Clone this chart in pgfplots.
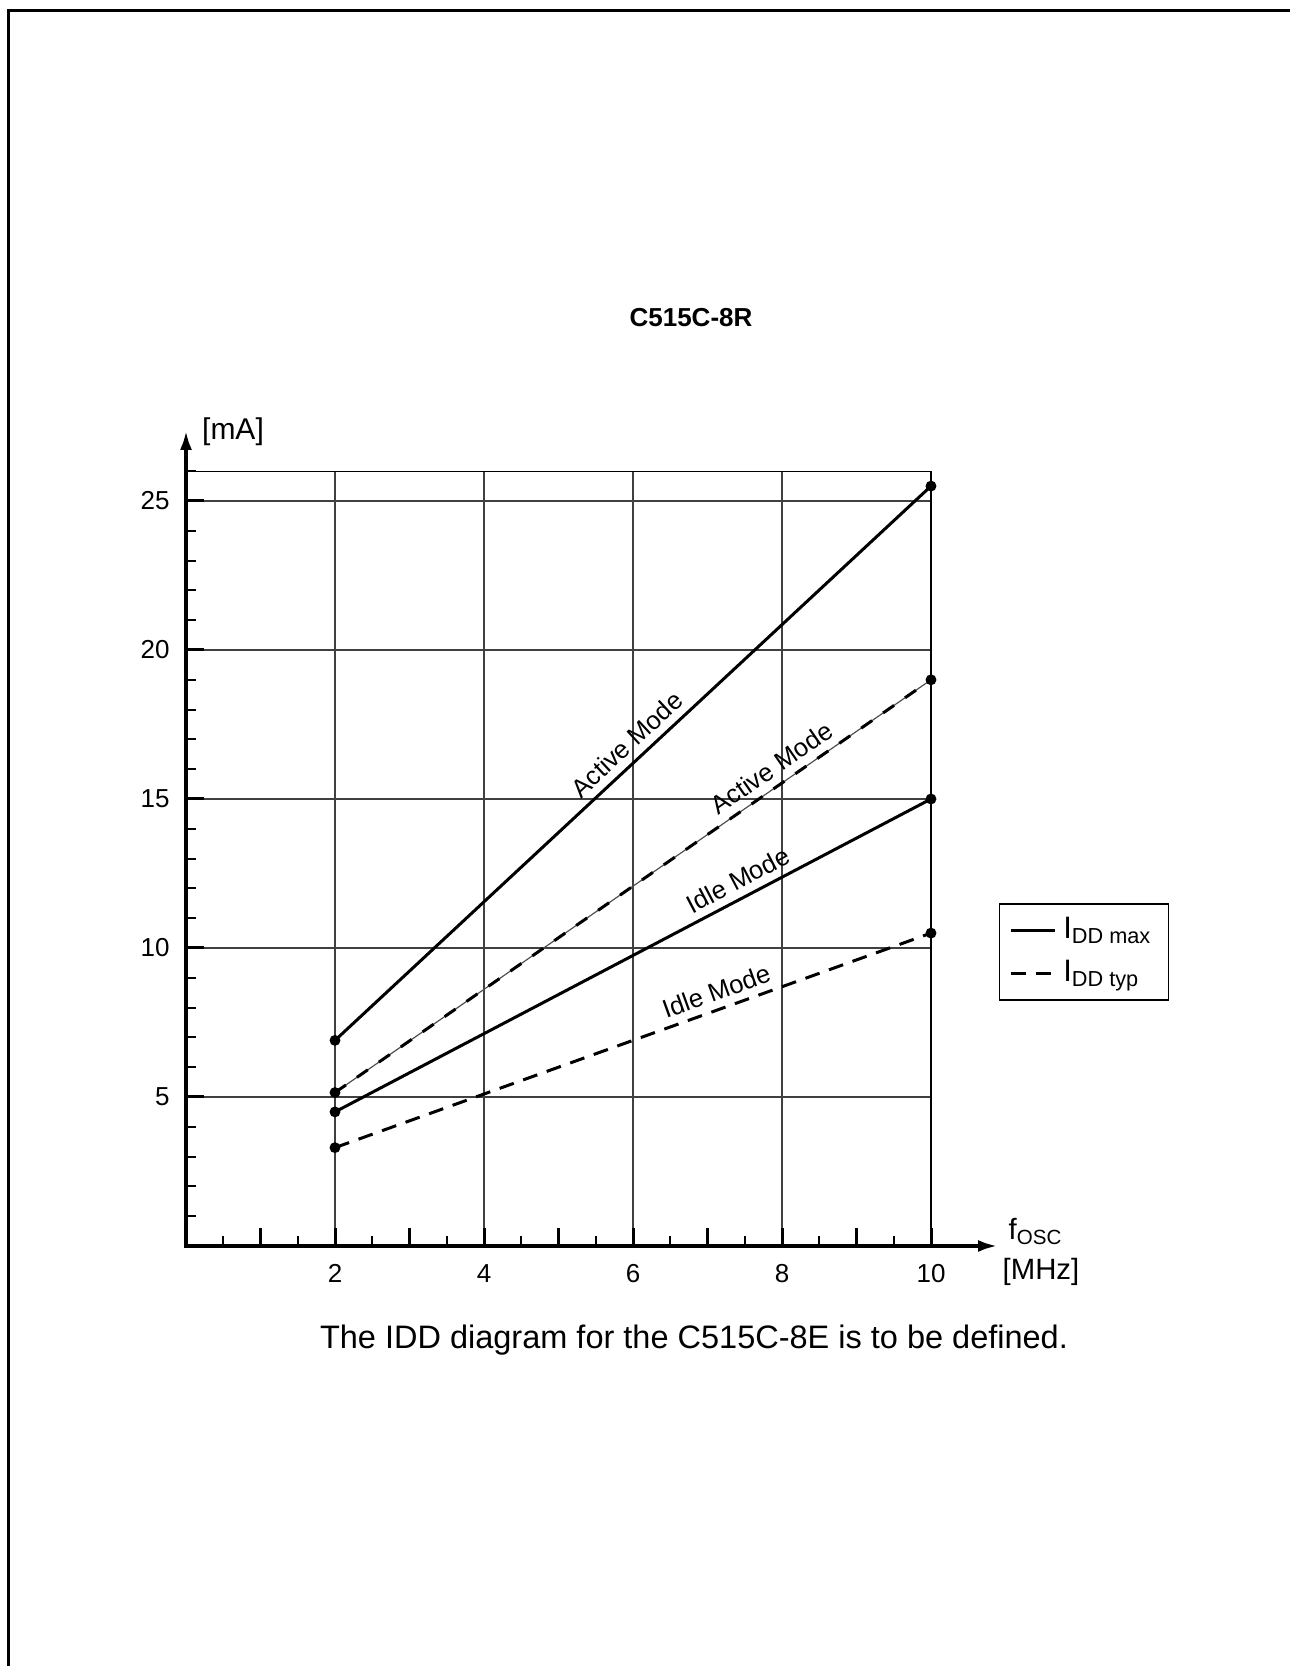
\documentclass[border=0pt]{standalone}
\usepackage{fontspec}
\setmainfont{Liberation Sans}
\usepackage{pgfplots}
\pgfplotsset{compat=1.18}
\usetikzlibrary{arrows.meta}
\begin{document}
\begin{tikzpicture}
\useasboundingbox (-55.8pt,-126pt) rectangle (331.2pt,373.8pt);
\draw[line width=0.9pt] (-53.25pt,-140pt) -- (-53.25pt,370.65pt) -- (345pt,370.65pt);
\begin{axis}[
  at={(0pt,0pt)}, anchor=south west,
  scale only axis, width=223.5pt, height=232.44pt,
  xmin=0, xmax=10, ymin=0, ymax=26,
  clip=false,
  axis line style={line width=0.4pt, black},
  tick pos=left, tick align=inside,
  xtick={2,4,6,8,10},
  extra x ticks={1,3,5,7,9}, extra x tick labels={}, extra x tick style={grid=none},
  minor xtick={0.5,1.5,...,9.5},
  ytick={5,10,15,20,25},
  minor ytick={1,2,3,4,6,7,8,9,11,12,13,14,16,17,18,19,21,22,23,24,26},
  grid=major,
  major grid style={line width=0.4pt, black!75},
  major tick length=5.5pt, minor tick length=3pt,
  major tick style={line width=0.9pt, black},
  minor tick style={line width=0.6pt, black},
  tick label style={font=\fontsize{7.8}{9}\selectfont},
  /pgf/number format/assume math mode=true,
  xticklabel style={anchor=center, yshift=-8.2pt},
  yticklabel style={anchor=east, xshift=-1.4pt},
  legend style={at={(axis cs:10.91,11.51)}, anchor=north west, draw=black, line width=0.5pt, fill=white,
    inner xsep=3pt, inner ysep=2pt, row sep=1pt,
    nodes={inner sep=2pt, font=\fontsize{9.3}{10}\selectfont},
    legend cell align=left},
  legend image code/.code={\draw[#1] (0pt,0pt) -- (13.2pt,0pt);},
]
\addplot[black, line width=0.9pt, mark=*, mark size=1.15pt]
  coordinates {(2,6.9) (10,25.5)}
  node[pos=0.51, sloped, above, inner sep=2.2pt, font=\fontsize{7.7}{9}\selectfont] {Active Mode};
\addlegendentry{I\textsubscript{DD max}}
\addplot[black, line width=0.9pt, mark=*, mark size=1.15pt, forget plot]
  coordinates {(2,4.5) (10,15.0)}
  node[pos=0.69, sloped, above, inner sep=2.2pt, font=\fontsize{7.7}{9}\selectfont] {Idle Mode};
\addplot[black!70, line width=0.35pt, forget plot]
  coordinates {(2,5.15) (10,19.0)};
\addplot[black, line width=0.9pt, dash pattern=on 4pt off 4pt, mark=*, mark size=1.15pt, mark options={solid}, forget plot]
  coordinates {(2,5.15) (10,19.0)}
  node[pos=0.75, sloped, above, inner sep=2.2pt, font=\fontsize{7.7}{9}\selectfont] {Active Mode};
\addplot[black, line width=0.9pt, dash pattern=on 4.5pt off 3pt, mark=*, mark size=1.15pt, mark options={solid}]
  coordinates {(2,3.3) (10,10.5)}
  node[pos=0.65, sloped, above, inner sep=2.2pt, font=\fontsize{7.7}{9}\selectfont] {Idle Mode};
\addlegendentry{I\textsubscript{DD typ}}
\end{axis}
% axes with arrows
\draw[line width=1.2pt, -{Latex[length=6pt, width=3.6pt]}] (-0.6pt,0pt) -- (243.6pt,0pt);
\draw[line width=1.2pt, -{Latex[length=6pt, width=3.6pt]}] (0pt,-0.6pt) -- (0pt,244.8pt);
\node[font=\fontsize{9}{10}\selectfont] at (14.1pt,244.2pt) {[mA]};
\node[font=\fontsize{8.8}{10}\selectfont, anchor=base west, inner sep=0pt] at (246.6pt,1.8pt) {f\textsubscript{OSC}};
\node[font=\fontsize{8.8}{10}\selectfont, anchor=base west, inner sep=0pt] at (244.8pt,-10.2pt) {[MHz]};
\node[font=\bfseries\fontsize{7.8}{9}\selectfont] at (151.5pt,278.4pt) {C515C-8R};
\node[font=\fontsize{9.75}{11}\selectfont] at (152.4pt,-28.3pt) {The IDD diagram for the C515C-8E is to be defined.};
\end{tikzpicture}
\end{document}
